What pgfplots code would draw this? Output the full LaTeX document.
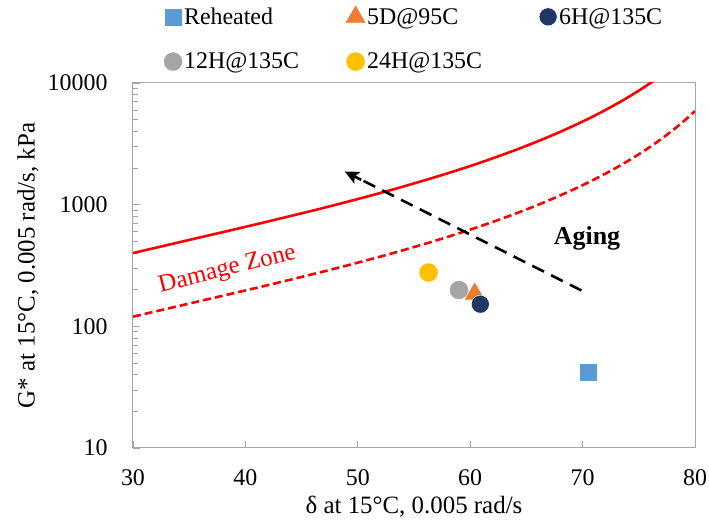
\documentclass[border=0pt]{standalone}
\usepackage{pgfplots}
\pgfplotsset{compat=1.18}
\usepackage{fontspec}
\setmainfont{Liberation Serif}
\usetikzlibrary{arrows.meta}
\definecolor{cReh}{HTML}{5B9BD5}
\definecolor{cFive}{HTML}{ED7D31}
\definecolor{cSix}{HTML}{203864}
\definecolor{cTwelve}{HTML}{A5A5A5}
\definecolor{cTwFour}{HTML}{FFC000}
\definecolor{axgray}{HTML}{A6A6A6}
\begin{document}
\begin{tikzpicture}
\useasboundingbox (-133bp,-81bp) rectangle (576bp,448bp);
\begin{axis}[
  at={(0,0)}, anchor=south west,
  scale only axis, width=562bp, height=365bp,
  xmin=30, xmax=80, ymode=log, ymin=10, ymax=10000,
  xtick={30,40,50,60,70,80},
  xticklabels={\textrm{30},\textrm{40},\textrm{50},\textrm{60},\textrm{70},\textrm{80}},
  ytick={10,100,1000,10000},
  yticklabels={\textrm{10},\textrm{100},\textrm{1000},\textrm{10000}},
  tick align=inside,
  axis line style={axgray, line width=1bp},
  tick style={axgray, line width=0.8bp},
  major tick length=7bp, minor tick length=5bp,
  xtick pos=bottom, ytick pos=left,
  tick label style={font=\rmfamily\fontsize{24}{27}\selectfont},
  xticklabel style={yshift=-18bp},
  yticklabel style={xshift=-22bp},
  xlabel={δ at 15°C, 0.005 rad/s},
  ylabel={G* at 15°C, 0.005 rad/s, kPa},
  label style={font=\rmfamily\fontsize{25}{28}\selectfont},
  xlabel style={at={(axis description cs:0.5,-0.162)}, anchor=center},
  ylabel style={at={(axis description cs:-0.187,0.5)}, anchor=center},
  legend columns=3,
  legend style={at={(axis description cs:0.055,1.212)}, anchor=north west, draw=none, fill=none,
    font=\rmfamily\fontsize{24}{27}\selectfont, column sep=0bp, row sep=23bp, inner sep=0pt},
  legend cell align=left,
  legend image code/.code={\draw[mark repeat=2,mark phase=2] plot coordinates {(0bp,0bp)(5bp,0bp)(10bp,0bp)};},
  clip=true,
]
% data points
\addplot[only marks, mark=square*, mark size=9bp, color=cReh, mark options={draw=white, line width=0.4bp}] coordinates {(70.47,41.7)};
\addlegendentry{\makebox[160bp][l]{Reheated}}
\addplot[only marks, mark=triangle*, mark size=11bp, color=cFive] coordinates {(60.4,185)};
\addlegendentry{\makebox[170bp][l]{5D@95C}}
\addplot[only marks, mark=*, mark size=9bp, color=cSix, mark options={draw=white, line width=0.4bp}] coordinates {(60.9,152)};
\addlegendentry{6H@135C}
\addplot[only marks, mark=*, mark size=9bp, color=cTwelve] coordinates {(59.0,199)};
\addlegendentry{\makebox[160bp][l]{12H@135C}}
\addplot[only marks, mark=*, mark size=9bp, color=cTwFour] coordinates {(56.3,277)};
\addlegendentry{\makebox[170bp][l]{24H@135C}}
% damage curves
\addplot[red, line width=2.6bp, smooth, forget plot] coordinates {
(30,400)(32,442)(34,488)(36,539)(38,595)(40,657)(42,727)(44,806)(46,894)(48,996)
(50,1112)(52,1247)(54,1405)(56,1591)(58,1812)(60,2078)(62,2404)(64,2806)(66,3314)
(68,3965)(70,4820)(71,5352)(72,5976)(73,6712)(74,7591)(75,8651)(76,9947)(77,11554)};
\addplot[red, line width=2.6bp, dash pattern=on 8bp off 4bp, smooth, forget plot] coordinates {
(30,120)(32,132.6)(34,146.4)(36,161.7)(38,178.5)(40,197.2)(42,218.1)(44,241.7)(46,268.3)
(48,298.8)(50,333.7)(52,374.2)(54,421.5)(56,477.2)(58,543.6)(60,623.5)(62,721.1)(64,841.8)
(66,994.1)(68,1189.4)(70,1445.9)(71,1605.6)(72,1792.8)(73,2013.7)(74,2277.4)(75,2595.4)
(76,2984)(77,3466)(78,4073)(79,4853)(80,5879)};
% aging arrow
\addplot[black, line width=2.6bp, dash pattern=on 13bp off 8bp, forget plot] coordinates {(69.9,197)(49.79,1694)};
\addplot[black, line width=2.6bp, solid, -{Stealth[length=14bp,width=13bp,inset=3bp]}, forget plot] coordinates {(50.3,1600)(48.84,1875)};
\node[font=\rmfamily\fontsize{26}{28}\selectfont\bfseries] at (axis cs:70.4,532) {Aging};
\node[font=\rmfamily\fontsize{25}{28}\selectfont, text=red, rotate=14] at (axis cs:38.4,290) {Damage Zone};
\end{axis}
\end{tikzpicture}
\end{document}
